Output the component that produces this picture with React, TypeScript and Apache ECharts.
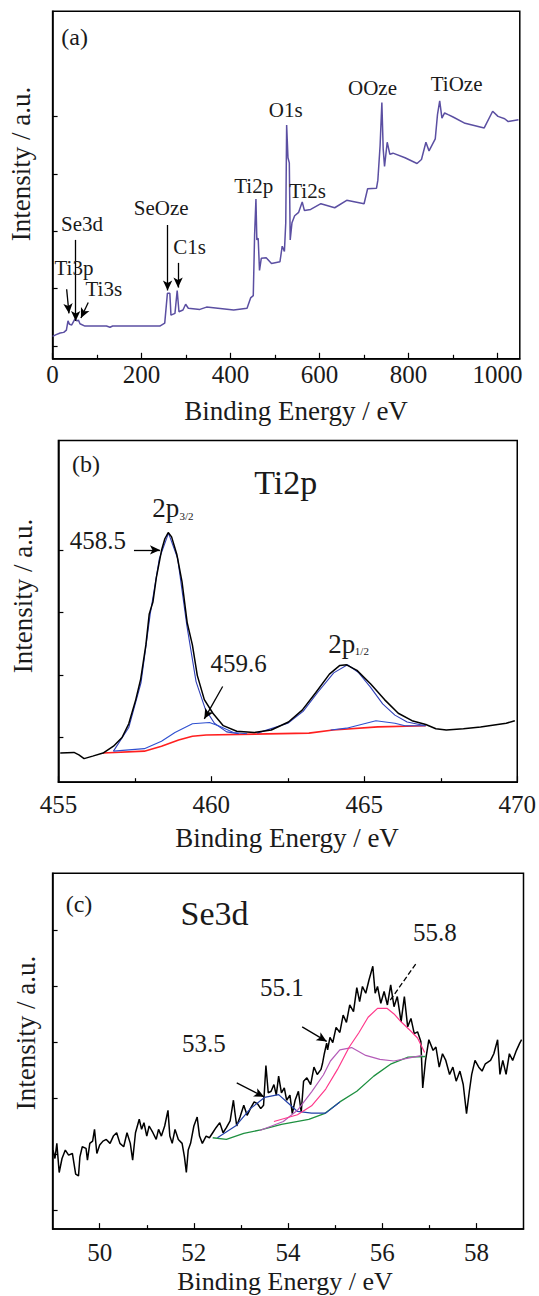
import React, { useEffect, useRef } from 'react';
import * as echarts from 'echarts';

// ---------- (a) survey spectrum: [binding energy eV, intensity a.u.] ----------
const surveyPoints = [
  [0, 3.9], [8, 4.2], [17, 4.5], [25, 4.6], [31, 5.0], [34.6, 6.6], [38, 6.0], [43, 5.9], [50, 6.9], [55, 6.6],
  [58, 6.75], [61.5, 6.1], [72.7, 5.7], [121, 5.7], [129, 5.5], [135, 5.7], [241, 5.7], [252, 6.2], [258, 11.4],
  [263.5, 11.4], [266, 7.6], [275, 7.9], [280, 11.9], [284, 8.2], [293, 8.5], [299, 9.5], [305, 8.8], [331, 8.6],
  [346, 9.0], [407, 8.5], [437, 8.8], [445, 10.6], [451, 11.0], [454, 21.6], [457, 27.8], [459, 20.7], [462, 21.0],
  [465, 15.4], [469, 17.5], [480, 17.6], [492, 16.6], [511, 16.9], [516, 19.6], [521, 18.7], [524, 23.7], [526, 40.7],
  [529, 35.0], [532, 34.1], [534, 20.7], [538, 23.7], [544, 24.9], [553, 25.5], [561, 27.3], [566, 25.8], [580, 26.0],
  [603, 27.0], [634, 26.3], [661, 27.6], [700, 27.0], [708, 29.6], [728, 29.7], [731, 31.1], [736, 37.1], [740, 44.6],
  [743, 36.5], [746, 33.5], [752, 37.7], [758, 35.6], [765, 35.8], [792, 35.0], [819, 34.0], [829, 34.7], [839, 37.7],
  [846, 36.2], [860, 38.3], [865, 42.5], [870, 44.9], [875, 41.9], [881, 42.8], [889, 42.5], [900, 42.1], [927, 41.0],
  [970, 40.2], [989, 43.1], [1001, 42.2], [1016, 41.8], [1024, 41.3], [1047, 41.6],
];

// ---------- (b) Ti2p ----------
const ti2pMeasured = [
  [455.06, 4.7], [455.51, 4.8], [455.67, 4.4], [455.84, 3.8], [456.12, 4.2], [456.46, 4.7], [456.8, 5.8], [457.08, 7.2],
  [457.3, 9.4], [457.53, 13.3], [457.69, 16.6], [457.86, 22.1], [457.97, 27.1], [458.09, 29.0], [458.2, 32.9],
  [458.37, 37.3], [458.48, 39.2], [458.59, 40.2], [458.7, 39.5], [458.87, 36.7], [459.04, 32.3], [459.21, 25.7],
  [459.38, 22.1], [459.54, 17.2], [459.77, 13.3], [460.05, 11.1], [460.39, 9.1], [460.83, 8.2], [461.4, 8.0],
  [461.96, 8.4], [462.52, 9.7], [462.97, 11.6], [463.41, 14.4], [463.86, 17.4], [464.2, 18.8], [464.42, 18.9],
  [464.76, 18.0], [465.21, 15.8], [465.66, 13.3], [466.11, 11.1], [466.56, 9.9], [467.01, 9.3], [467.34, 8.6],
  [467.68, 8.4], [468.24, 8.6], [468.8, 8.9], [469.36, 9.3], [469.64, 9.5], [469.92, 9.9],
];
const ti2pBackground = [
  [456.46, 4.7], [457.81, 5.0], [458.37, 5.8], [458.93, 6.8], [459.38, 7.4], [459.83, 7.6], [463.19, 7.9],
  [463.98, 8.4], [465.44, 8.9], [467.01, 9.1],
];
const ti2p32Fit = [
  [456.8, 5.0], [457.3, 8.8], [457.7, 16.0], [458.0, 27.0], [458.3, 36.0], [458.6, 40.1], [458.9, 36.0], [459.2, 25.2],
  [459.5, 16.2], [459.8, 11.8], [460.1, 9.5], [460.5, 8.1], [460.9, 7.8],
];
const ti2p596Fit = [
  [456.8, 5.0], [457.81, 5.4], [458.37, 6.6], [458.81, 8.0], [459.38, 9.4], [459.94, 9.6], [460.27, 9.0],
  [460.72, 8.0], [461.17, 7.8],
];
const ti2p12Fit = [
  [461.5, 7.9], [462.5, 9.5], [463.0, 11.4], [463.5, 14.6], [464.0, 17.6], [464.45, 18.9], [464.8, 17.7],
  [465.2, 15.3], [465.6, 12.6], [466.0, 10.8], [466.4, 9.7], [467.0, 9.1],
];
const ti2pSmallFit = [[463.9, 8.4], [464.42, 8.7], [465.38, 9.9], [466.0, 9.5], [466.33, 9.1], [467.0, 9.1]];

// ---------- (c) Se3d ----------
const se3dMeasured = [
  [49.01, 14.1], [49.05, 12.6], [49.09, 15.3], [49.14, 10.1], [49.2, 12.6], [49.27, 14.1], [49.34, 13.2], [49.42, 13.5],
  [49.49, 9.8], [49.55, 9.5], [49.58, 12.9], [49.63, 14.7], [49.71, 14.4], [49.74, 12.3], [49.79, 15.3], [49.85, 15.7],
  [49.89, 17.8], [49.94, 13.5], [50.0, 15.0], [50.07, 15.7], [50.14, 16.0], [50.22, 15.3], [50.29, 16.6], [50.36, 17.2],
  [50.43, 15.3], [50.51, 14.7], [50.58, 17.2], [50.65, 15.3], [50.7, 12.3], [50.76, 17.2], [50.84, 19.6], [50.89, 17.8],
  [50.94, 19.0], [51.0, 16.6], [51.05, 18.4], [51.13, 17.2], [51.2, 16.0], [51.25, 17.8], [51.31, 16.6], [51.38, 18.4],
  [51.45, 21.2], [51.49, 16.6], [51.54, 15.3], [51.6, 17.8], [51.67, 16.0], [51.75, 15.3], [51.8, 12.9], [51.84, 10.1],
  [51.88, 14.1], [51.93, 15.3], [52.0, 18.4], [52.07, 20.0], [52.12, 16.6], [52.18, 15.3], [52.26, 16.6], [52.33, 16.3],
  [52.4, 17.2], [52.47, 18.1], [52.55, 19.0], [52.62, 17.2], [52.69, 18.1], [52.77, 19.3], [52.84, 23.0], [52.87, 20.9],
  [52.91, 18.4], [52.98, 20.0], [53.06, 22.1], [53.13, 20.3], [53.2, 21.5], [53.28, 22.7], [53.35, 22.4], [53.42, 21.5],
  [53.48, 22.1], [53.53, 29.2], [53.58, 24.3], [53.64, 24.6], [53.7, 25.8], [53.75, 23.9], [53.8, 27.3], [53.86, 24.3],
  [53.92, 25.2], [53.97, 23.0], [54.04, 23.9], [54.09, 20.6], [54.15, 23.0], [54.22, 24.6], [54.28, 20.9], [54.33, 26.4],
  [54.4, 27.0], [54.48, 25.8], [54.55, 28.9], [54.62, 27.6], [54.7, 28.5], [54.73, 29.5], [54.77, 31.3], [54.82, 33.2],
  [54.84, 32.0], [54.89, 34.2], [54.95, 33.3], [55.02, 36.0], [55.1, 35.1], [55.17, 38.2], [55.24, 36.9], [55.31, 40.0],
  [55.39, 38.8], [55.46, 43.1], [55.52, 40.6], [55.58, 43.3], [55.65, 42.1], [55.72, 44.5], [55.8, 46.9], [55.85, 42.1],
  [55.9, 43.3], [55.97, 40.3], [56.04, 42.4], [56.11, 40.0], [56.18, 43.6], [56.25, 39.7], [56.32, 41.5], [56.4, 37.0],
  [56.47, 41.5], [56.54, 36.1], [56.61, 37.6], [56.68, 34.9], [56.75, 35.2], [56.82, 33.5], [56.86, 25.2], [56.92, 30.1],
  [56.99, 33.8], [57.08, 31.9], [57.14, 32.5], [57.21, 28.9], [57.28, 31.3], [57.35, 30.1], [57.43, 27.6], [57.5, 28.9],
  [57.57, 26.4], [57.65, 28.2], [57.72, 25.8], [57.79, 20.6], [57.85, 24.6], [57.9, 27.6], [57.97, 30.1], [58.05, 28.9],
  [58.12, 28.2], [58.19, 29.5], [58.3, 30.1], [58.37, 31.3], [58.45, 33.8], [58.5, 27.6], [58.56, 30.1], [58.63, 27.6],
  [58.7, 31.3], [58.77, 30.1], [58.85, 31.9], [58.92, 33.2], [58.96, 33.8],
];
const se3dBackground = [
  [52.4, 16.3], [52.69, 16.0], [53.06, 17.1], [53.42, 17.7], [53.86, 18.7], [54.44, 19.6], [54.77, 20.6], [55.1, 22.7],
  [55.46, 24.6], [55.82, 27.3], [56.19, 29.5], [56.55, 30.7], [56.92, 30.8],
];
const se3d535Fit = [
  [52.5, 16.3], [52.9, 18.5], [53.2, 21.5], [53.5, 23.5], [53.8, 24.0], [54.0, 22.5], [54.2, 21.0], [54.5, 20.7],
  [54.8, 20.7], [55.1, 22.7],
];
const se3d551Fit = [
  [53.4, 17.6], [53.9, 19.2], [54.2, 21.2], [54.5, 24.5], [54.75, 27.5], [54.9, 30.0], [55.1, 32.0], [55.35, 32.4],
  [55.65, 31.0], [55.95, 30.3], [56.25, 30.0], [56.55, 30.5], [56.85, 31.0],
];
const se3d558Fit = [
  [53.7, 19.2], [54.2, 20.4], [54.5, 22.0], [54.8, 25.0], [55.05, 28.5], [55.3, 32.5], [55.5, 35.0], [55.7, 37.8],
  [55.9, 39.4], [56.1, 39.4], [56.25, 38.4], [56.4, 37.0], [56.6, 35.4], [56.75, 34.1], [56.9, 31.5],
];

// ---------- tick values ----------
const surveyMajorTicks = [0, 200, 400, 600, 800, 1000];
const surveyMinorTicks = [100, 300, 500, 700, 900];
const surveyYTicks = [2.2, 12.2, 22.2, 32.2, 42.2];
const ti2pYTicks = [7.3, 17.3, 27.3, 37.3];
const se3dMajorTicks = [50, 52, 54, 56, 58];
const se3dMinorTicks = [51, 53, 55, 57];
const se3dYTicks = [3.4, 13.4, 23.4, 33.4, 43.4, 53.4];

// annotation texts: [text, x, y (data), fontSize]
const surveyLabels: [string, number, number, number][] = [
  ['(a)', 49.6, 56.1, 24], ['O1s', 524, 43.3, 21], ['OOze', 719, 47.1, 21], ['TiOze', 908, 47.8, 21],
  ['Ti2p', 452, 30.1, 21], ['Ti2s', 573, 29.2, 21], ['SeOze', 244, 26.3, 21], ['C1s', 308, 19.5, 21],
  ['Se3d', 66, 23.5, 21], ['Ti3p', 48, 15.8, 21], ['Ti3s', 115, 12.2, 21],
];
const ti2pLabels: [string, number, number, number][] = [
  ['(b)', 455.9, 51.2, 24], ['Ti2p', 462.43, 48.3, 34], ['2p', 458.51, 44.1, 27], ['3/2', 459.19, 42.9, 11],
  ['458.5', 456.29, 38.9, 25], ['459.6', 460.89, 19.1, 25], ['2p', 464.26, 22.3, 27], ['1/2', 464.92, 21.2, 11],
];
const se3dLabels: [string, number, number, number][] = [
  ['(c)', 49.56, 58.0, 24], ['Se3d', 52.44, 56.3, 34], ['55.8', 57.12, 52.9, 25], ['55.1', 53.87, 43.1, 25],
  ['53.5', 52.21, 33.2, 25],
];
// arrows: [x1, y1, x2, y2]
const surveyArrows = [
  [51.9, 20.7, 51.9, 6.6], [31.6, 12.1, 36.8, 7.9], [80.1, 9.8, 63.7, 7.1], [258.4, 23.3, 258.4, 11.9],
  [282, 16.7, 282, 12.4],
];
const ti2pArrows = [[457.47, 37.4, 458.32, 37.4], [460.37, 15.4, 459.77, 10.2]];
const se3dArrows = [[54.3, 36.1, 54.82, 33.5], [52.91, 26.1, 53.49, 23.6]];
const se3dDashed = [[56.71, 47.3, 56.15, 40.6]];

const FONT = 'Liberation Serif';
const TXT = '#1a1a1a';

export default function App() {
  const ref = useRef<HTMLDivElement>(null);
  useEffect(() => {
    document.body.style.margin = '0';
    const chart = echarts.init(ref.current!, null, { renderer: 'svg' });
    const black = '#000';
    const axisLine = { show: true, onZero: false, lineStyle: { color: black, width: 1.5 } };
    const tick = (len: number, values?: number[]) => ({
      show: true, inside: true, length: len, lineStyle: { color: black, width: 1.2 },
      ...(values ? { customValues: values } : {}),
    });
    const gridBox = { show: true, borderColor: black, borderWidth: 1.5, backgroundColor: 'transparent', containLabel: false };
    const label = (margin: number, values?: number[]) => ({
      show: true, color: TXT, fontFamily: FONT, fontSize: 25, margin,
      formatter: (v: number) => String(v),
      ...(values ? { customValues: values } : {}),
    });
    const noSplit = { splitLine: { show: false }, minorSplitLine: { show: false } };
    const arrowLines = (arr: number[][], dashed = false) =>
      arr.map((a) => [
        { coord: [a[0], a[1]], symbol: 'none', lineStyle: { type: dashed ? 'dashed' : 'solid' } },
        { coord: [a[2], a[3]], symbol: dashed ? 'none' : 'arrow' },
      ]);
    const markLine = (data: any[]) => ({
      silent: true, symbol: ['none', 'arrow'], symbolSize: [7, 10], animation: false,
      label: { show: false }, lineStyle: { color: black, width: 1.3, type: 'solid' },
      emphasis: { disabled: true }, data,
    });
    const line = (xi: number, yi: number, data: number[][], color: string, width: number, extra: any = {}) => ({
      type: 'line', xAxisIndex: xi, yAxisIndex: yi,
      data, showSymbol: false, symbol: 'none', silent: true,
      lineStyle: { color, width }, emphasis: { disabled: true }, ...extra,
    });

    const option: any = {
      animation: false,
      grid: [
        { left: 52.6, top: 11.3, width: 467.2, height: 347.5, ...gridBox },
        { left: 58.4, top: 440.6, width: 459.6, height: 341.6, ...gridBox },
        { left: 52.6, top: 873.3, width: 470.9, height: 355.8, ...gridBox },
      ],
      xAxis: [
        { gridIndex: 0, type: 'value', min: 0, max: 1050, position: 'bottom', axisLine, axisTick: tick(6, surveyMajorTicks), axisLabel: label(3, surveyMajorTicks), ...noSplit },
        { gridIndex: 1, type: 'value', min: 455, max: 470, interval: 5, position: 'bottom', axisLine, axisTick: tick(6), minorTick: { show: true, splitNumber: 2, length: 4, lineStyle: { color: black, width: 1.2 } }, axisLabel: label(10), ...noSplit },
        { gridIndex: 2, type: 'value', min: 49, max: 59, position: 'bottom', axisLine, axisTick: tick(6, se3dMajorTicks), axisLabel: label(11, se3dMajorTicks), ...noSplit },
        { gridIndex: 2, type: 'value', min: 49, max: 59, position: 'bottom', offset: 0, axisLine: { show: false }, axisTick: tick(4, se3dMinorTicks), axisLabel: { show: false }, ...noSplit },
        { gridIndex: 0, type: 'value', min: 0, max: 1050, position: 'bottom', offset: 0, axisLine: { show: false }, axisTick: tick(4, surveyMinorTicks), axisLabel: { show: false }, ...noSplit },
      ],
      yAxis: [
        { gridIndex: 0, type: 'value', min: 0, max: 60.5, position: 'left', axisLine, axisTick: tick(5, surveyYTicks), axisLabel: { show: false }, ...noSplit },
        { gridIndex: 1, type: 'value', min: 0, max: 55, position: 'left', axisLine, axisTick: tick(5, ti2pYTicks), axisLabel: { show: false }, ...noSplit },
        { gridIndex: 2, type: 'value', min: 0, max: 63.5, position: 'left', axisLine, axisTick: tick(5, se3dYTicks), axisLabel: { show: false }, ...noSplit },
      ],
      series: [
        { ...line(0, 0, surveyPoints, '#5b4fa2', 1.5), markLine: markLine(arrowLines(surveyArrows)) },
        line(1, 1, ti2pBackground, '#ff1f1f', 1.6),
        line(1, 1, ti2p32Fit, '#2f3fb8', 1.1),
        line(1, 1, ti2p596Fit, '#2f50d0', 1.1),
        line(1, 1, ti2p12Fit, '#2f3fb8', 1.1),
        line(1, 1, ti2pSmallFit, '#2f50d0', 1.1),
        { ...line(1, 1, ti2pMeasured, '#000', 1.5), markLine: markLine(arrowLines(ti2pArrows)) },
        { ...line(2, 2, se3dMeasured, '#000', 1.5), markLine: markLine([...arrowLines(se3dArrows), ...arrowLines(se3dDashed, true)]) },
        line(2, 2, se3dBackground, '#1e9040', 1.3),
        line(2, 2, se3d535Fit, '#2340a8', 1.2),
        line(2, 2, se3d551Fit, '#b45cb8', 1.2),
        line(2, 2, se3d558Fit, '#ff3a8c', 1.2),
      ],
    };
    chart.setOption(option);

    const texts: any[] = [];
    const addText = (text: string, x: number, y: number, size: number, rotation = 0) => {
      texts.push({
        type: 'text', x, y, rotation, silent: true, z: 100,
        style: {
          text, fill: TXT, fontFamily: FONT, fontSize: size,
          align: 'center', verticalAlign: 'middle', textAlign: 'center', textVerticalAlign: 'middle',
        },
      });
    };
    const place = (si: number, labels: [string, number, number, number][]) => {
      labels.forEach(([t, x, y, s]) => {
        const p = chart.convertToPixel({ seriesIndex: si }, [x, y]) as number[];
        addText(t, p[0], p[1], s);
      });
    };
    place(0, surveyLabels);
    place(6, ti2pLabels);
    place(7, se3dLabels);
    addText('Binding Energy / eV', 296, 410.6, 27);
    addText('Binding Energy / eV', 287, 837.5, 27);
    addText('Binding Energy / eV', 285, 1281, 26);
    addText('Intensity / a.u.', 20.5, 164, 27, Math.PI / 2);
    addText('Intensity / a.u.', 22.5, 596, 27, Math.PI / 2);
    addText('Intensity / a.u.', 25.5, 1033, 27, Math.PI / 2);
    chart.setOption({ graphic: texts });

    return () => chart.dispose();
  }, []);
  return <div ref={ref} style={{ width: 539, height: 1296 }} />;
}
